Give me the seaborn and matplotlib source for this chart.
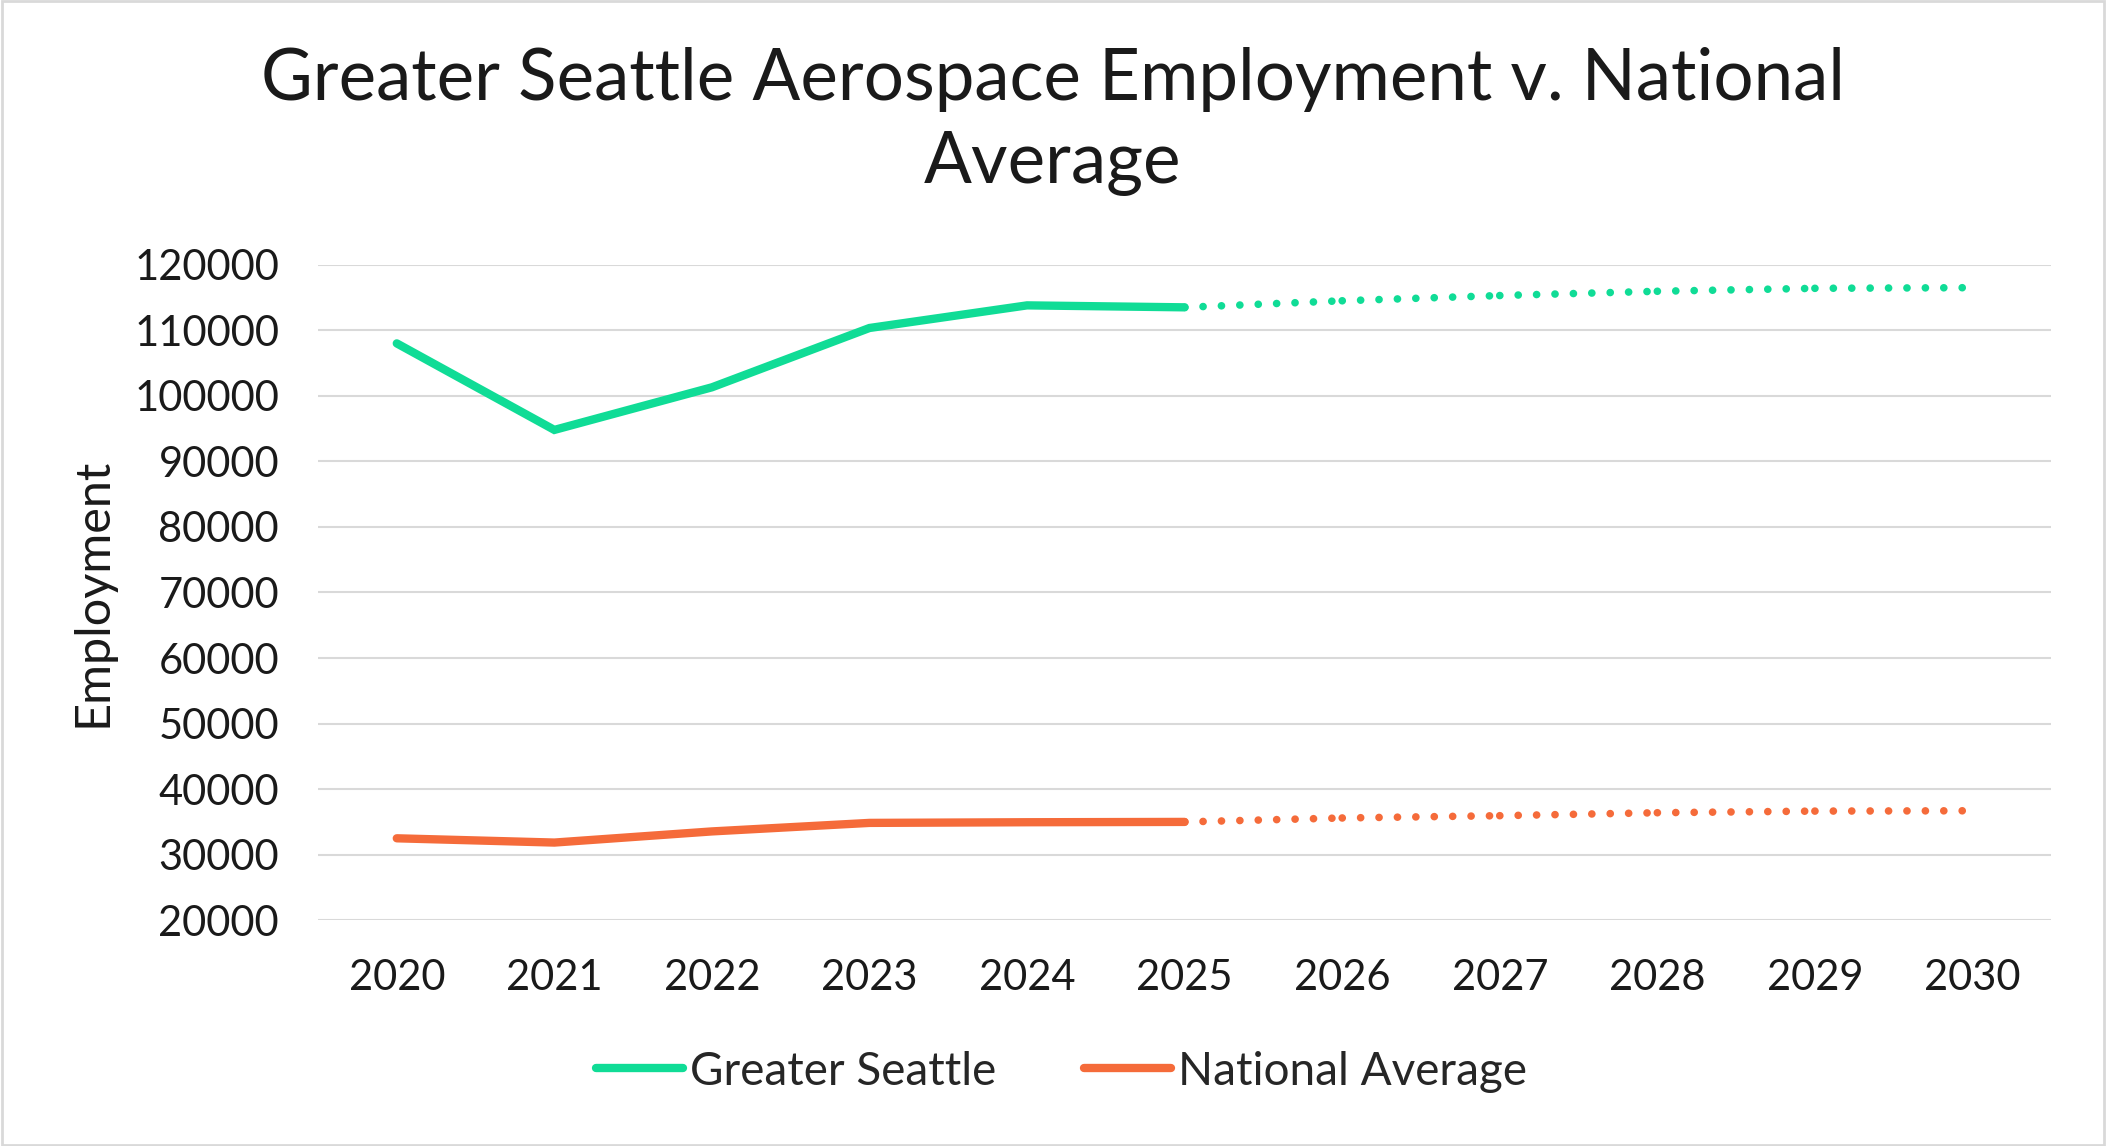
import numpy as np
import pandas as pd
import matplotlib
matplotlib.use('Agg')
import matplotlib.pyplot as plt
import seaborn as sns
from matplotlib.lines import Line2D
from matplotlib.patches import Rectangle

# 데이터
years = [2020, 2021, 2022, 2023, 2024, 2025, 2026, 2027, 2028, 2029, 2030]
seattle = [108000, 94800, 101300, 110350, 113800, 113500, 114500, 115300, 115950, 116400, 116500]
national = [32500, 31850, 33550, 34850, 34950, 35000, 35600, 35950, 36400, 36650, 36700]
last_actual = 2025

green = '#10DC96'
orange = '#F56B3A'

sns.set_theme(style='white')
plt.rcParams['font.family'] = ['Lato', 'DejaVu Sans']

df = pd.DataFrame({'year': years, 'Greater Seattle': seattle, 'National Average': national})
actual = df[df['year'] <= last_actual]
proj = df[df['year'] >= last_actual].reset_index(drop=True)

fig = plt.figure(figsize=(21.06, 11.46), dpi=100)
ax = fig.add_axes([0.151, 0.197, 0.823, 0.572])

for col, c in [('Greater Seattle', green), ('National Average', orange)]:
    sns.lineplot(data=actual, x='year', y=col, color=c, lw=6,
                 solid_capstyle='round', solid_joinstyle='miter', ax=ax)
    # 예측 구간: 연도별로 점선 세그먼트
    for i in range(len(proj) - 1):
        seg = proj.iloc[i:i + 2]
        sns.lineplot(data=seg, x='year', y=col, color=c, lw=5.5,
                     linestyle=(0, (0.01, 2.4)), dash_capstyle='round', ax=ax)

ax.set_xlim(2019.5, 2030.5)
ax.set_ylim(20000, 120000)
ax.set_yticks(np.arange(20000, 120001, 10000))
ax.set_xticks(years)
ax.set_xticklabels([str(y) for y in years])
ax.yaxis.grid(True, color='#D9D9D9', lw=1.5)
ax.set_axisbelow(True)
for s in ax.spines.values():
    s.set_visible(False)
ax.tick_params(axis='y', labelsize=30, pad=28, length=0, labelcolor='#1a1a1a')
ax.tick_params(axis='x', labelsize=30, pad=28, length=0, labelcolor='#1a1a1a')
ax.set_xlabel('')
ax.set_ylabel('Employment', fontsize=35, labelpad=14, color='#1a1a1a')

fig.text(0.5, 0.894, 'Greater Seattle Aerospace Employment v. National\nAverage',
         ha='center', va='center', multialignment='center',
         fontsize=51, color='#1a1a1a', linespacing=1.35)

handles = [Line2D([], [], color=green, lw=6, solid_capstyle='round'),
           Line2D([], [], color=orange, lw=6, solid_capstyle='round')]
fig.legend(handles, ['Greater Seattle', 'National Average'], loc='center',
           bbox_to_anchor=(0.504, 0.065), ncol=2, frameon=False, fontsize=33,
           handlelength=1.9, handletextpad=0.15, columnspacing=1.9)

fig.patches.append(Rectangle((0.001, 0.001), 0.998, 0.998, transform=fig.transFigure,
                             fill=False, edgecolor='#D9D9D9', lw=2))

fig.savefig('out.png', dpi=100)
